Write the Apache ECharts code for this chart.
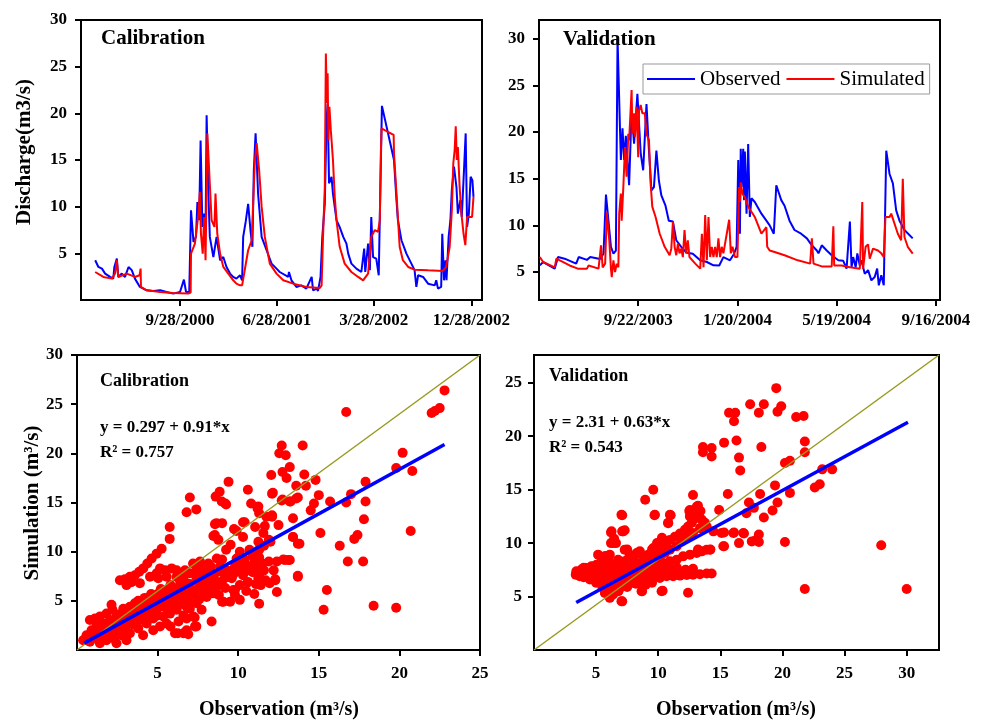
<!DOCTYPE html>
<html>
<head>
<meta charset="utf-8">
<script src="https://cdn.jsdelivr.net/npm/echarts@6.0.0/dist/echarts.min.js"></script>
<style>
html,body{margin:0;padding:0;background:#fff;}
#chart{width:983px;height:722px;}
</style>
</head>
<body>
<div id="chart"></div>
<script>
// ---------------- DATA ----------------
// Time series: [days after base date, discharge m3/s]
const calBaseDate = '2000-09-28';
const valBaseDate = '2003-09-22';
const calTickDates = ['2000-09-28', '2001-06-28', '2002-03-28', '2002-12-28'];
const valTickDates = ['2003-09-22', '2004-01-20', '2004-05-19', '2004-09-16'];
const calRangeDays = [-279, 851];
const valRangeDays = [-120, 365];

const calObs = [
[-239,4.26],[-230,3.54],[-220,3.36],[-211,2.83],[-197,2.47],[-188,2.29],[-185,3.54],[-178,4.43],[-174,2.47],[-164,2.83],[-155,2.47],[-145,3.54],[-136,3.2],[-127,2.29],[-113,1.4],[-94,1.04],[-75,0.97],[-56,1.04],[-38,0.86],[-19,0.68],[0,0.86],[11,2.18],[17,0.86],[26,0.86],[31,9.62],[38,6.22],[45,6.76],[49,10.5],[54,8.55],[58,17.1],[63,7.83],[68,9.26],[72,7.1],[75,19.8],[80,11.4],[84,6.76],[94,4.6],[103,6.76],[113,4.26],[122,4.6],[131,3.54],[141,2.83],[150,2.47],[159,2.29],[169,2.65],[175,2.11],[178,6.76],[185,8.37],[192,10.3],[199,7.3],[204,5.7],[208,13.9],[213,17.85],[220,11.4],[230,6.76],[244,5.33],[258,3.9],[272,3.36],[281,3.0],[305,2.47],[307,3.0],[314,2.11],[328,1.4],[342,1.57],[356,1.22],[371,2.47],[375,1.04],[385,1.22],[389,0.97],[396,2.47],[401,6.76],[408,10.3],[413,19.3],[416,21.0],[420,12.5],[427,13.2],[431,11.4],[441,8.55],[450,7.8],[460,6.76],[469,6.04],[474,4.97],[483,3.9],[497,3.36],[511,3.0],[519,5.5],[522,3.0],[530,6.04],[535,3.2],[539,8.9],[544,4.6],[553,4.43],[560,2.65],[569,20.8],[603,15.0],[610,10.7],[614,8.55],[624,6.4],[638,4.97],[652,3.9],[661,3.2],[666,1.4],[671,2.65],[685,2.47],[699,1.75],[718,1.57],[722,2.11],[727,1.22],[736,1.4],[739,7.1],[744,2.11],[748,4.26],[751,2.11],[757,6.76],[762,8.55],[766,11.8],[772,14.3],[779,12.1],[783,9.26],[790,10.7],[794,8.9],[800,13.7],[805,17.85],[809,7.83],[814,9.26],[819,13.2],[824,12.8],[827,11.05]
];
const calSim = [
[-239,3.0],[-216,2.47],[-192,2.29],[-183,2.83],[-178,4.26],[-174,2.47],[-150,2.83],[-127,2.47],[-114,2.65],[-111,3.36],[-110,1.4],[-94,1.04],[-56,0.86],[-19,0.75],[23,0.7],[30,0.8],[31,4.97],[42,6.04],[52,9.26],[56,11.6],[59,7.1],[64,4.97],[68,8.9],[72,4.26],[77,17.85],[83,13.2],[89,8.55],[97,7.83],[100,11.4],[105,7.1],[113,4.97],[122,3.54],[136,2.83],[150,2.11],[159,1.75],[169,1.57],[175,1.57],[178,1.75],[192,5.33],[202,6.4],[206,6.33],[211,15.0],[216,16.8],[219,16.8],[223,13.9],[230,10.0],[239,6.76],[253,3.9],[272,2.83],[291,2.11],[319,1.75],[356,1.4],[394,1.29],[399,1.57],[403,6.76],[408,12.1],[411,26.4],[414,21.1],[416,24.3],[418,17.1],[421,20.7],[425,18.2],[431,15.0],[436,11.05],[441,8.55],[450,5.7],[464,3.9],[483,3.0],[502,2.47],[516,2.11],[530,2.83],[539,6.76],[549,7.5],[558,7.3],[563,8.55],[566,15.7],[568,18.4],[586,18.0],[602,17.7],[603,15.7],[610,11.4],[619,5.7],[628,4.26],[643,3.54],[661,3.25],[699,3.18],[741,3.11],[750,3.54],[760,5.7],[766,9.6],[770,14.6],[774,16.1],[777,18.6],[780,15.0],[783,16.4],[788,12.1],[793,9.26],[799,7.1],[804,5.87],[809,8.9],[816,8.9],[823,8.9],[827,11.05]
];
const valObs = [
[-119,5.71],[-115,6.07],[-101,5.36],[-97,6.6],[-89,6.43],[-75,5.9],[-72,6.6],[-62,6.3],[-58,6.6],[-46,6.4],[-42,6.96],[-39,13.3],[-36,10.5],[-33,7.7],[-30,6.96],[-27,7.3],[-25,30.0],[-22,20.2],[-21,17.0],[-19,20.4],[-17,17.0],[-15,19.6],[-11,14.3],[-8,22.3],[-5,18.75],[-1,24.1],[3,17.7],[6,15.9],[10,23.0],[13,18.0],[16,13.75],[19,14.1],[22,18.0],[25,14.8],[28,13.2],[33,12.1],[37,10.5],[42,10.4],[46,8.4],[52,7.7],[58,7.1],[66,6.96],[75,6.25],[83,6.07],[91,5.71],[98,5.7],[103,6.6],[111,6.25],[116,6.96],[119,7.7],[121,17.0],[123,9.1],[124,18.2],[125,14.1],[127,18.2],[128,12.7],[129,17.9],[131,11.25],[133,18.7],[135,10.9],[137,12.9],[141,12.5],[149,11.25],[155,10.5],[159,10.0],[164,9.1],[167,14.3],[173,12.7],[177,12.1],[183,10.5],[189,9.5],[197,9.1],[204,8.6],[210,7.86],[216,7.3],[218,7.0],[222,7.86],[228,7.3],[234,6.8],[242,6.25],[248,6.2],[252,5.36],[256,10.4],[258,5.5],[260,6.6],[263,5.5],[265,7.0],[268,5.7],[270,6.25],[274,4.8],[278,5.2],[282,4.1],[286,4.46],[289,5.36],[291,3.57],[294,4.64],[297,3.57],[300,18.0],[304,15.5],[308,14.5],[312,11.6],[316,10.5],[322,9.5],[332,8.6]
];
const valSim = [
[-119,6.6],[-115,6.07],[-101,5.5],[-99,6.43],[-83,5.7],[-73,5.36],[-62,5.36],[-60,5.7],[-48,5.36],[-46,5.2],[-45,7.86],[-43,5.5],[-40,5.9],[-38,11.4],[-35,8.4],[-33,5.36],[-32,4.46],[-30,6.25],[-28,5.0],[-26,5.9],[-24,5.5],[-23,11.25],[-21,13.4],[-20,10.5],[-18,14.1],[-16,18.4],[-14,15.2],[-12,19.8],[-11,19.1],[-8,24.5],[-7,19.8],[-5,22.0],[-4,19.5],[-2,22.7],[0,17.3],[1,22.3],[3,22.9],[5,22.0],[8,22.0],[10,19.8],[13,19.1],[15,14.5],[17,12.0],[21,10.9],[26,9.1],[32,7.7],[38,6.8],[40,7.5],[42,10.4],[44,7.7],[46,6.8],[48,8.0],[50,7.0],[52,7.5],[54,6.6],[56,9.5],[58,7.0],[60,8.4],[62,6.6],[69,5.9],[75,5.36],[77,9.1],[79,5.5],[81,11.1],[83,6.25],[85,10.9],[87,6.6],[89,7.7],[91,6.6],[93,7.7],[95,6.6],[97,8.6],[99,6.6],[101,7.7],[103,7.0],[110,10.6],[112,7.0],[114,7.7],[117,6.6],[120,6.6],[122,14.1],[123,12.5],[124,14.6],[126,13.4],[129,13.0],[133,12.0],[141,10.9],[149,9.1],[155,9.8],[156,7.7],[159,7.3],[165,7.14],[177,6.8],[193,6.25],[208,5.9],[210,8.6],[212,5.9],[222,5.6],[234,5.6],[236,9.9],[237,5.7],[246,5.7],[256,5.5],[268,5.36],[271,12.5],[272,5.36],[275,7.7],[278,7.96],[280,6.43],[284,7.5],[290,7.3],[294,7.0],[297,6.6],[299,10.9],[304,10.9],[306,11.25],[314,9.1],[318,8.4],[320,15.0],[322,8.75],[326,7.7],[332,6.96]
];

// Scatter: [observation, simulation]
const calPairs = [
[16.7,24.2],[22.0,24.1],[22.2,24.3],[22.5,24.6],[22.8,26.4],[20.2,20.05],[19.8,18.5],[20.8,18.2],[20.7,12.1],[19.8,4.3],[18.4,4.5],[17.9,17.1],[17.9,15.1],[17.8,13.3],[17.75,9.0],[17.4,11.7],[17.2,11.3],[17.0,15.85],[16.7,15.0],[16.8,9.0],[16.3,10.6],[15.7,15.1],[15.5,6.1],[15.3,4.1],[15.1,11.9],[15.0,15.75],[14.8,17.3],[14.7,14.9],[14.5,14.2],[14.2,16.7],[14.1,17.85],[14.0,20.8],[13.8,10.8],[13.7,7.55],[13.7,15.5],[13.6,16.7],[13.4,11.5],[13.4,13.4],[13.25,15.1],[13.2,18.6],[13.0,17.5],[12.95,19.8],[12.75,18.1],[12.7,20.8],[12.55,20.0],[12.75,15.3],[13.1,9.15],[12.8,9.2],[12.4,5.9],[12.3,7.2],[12.1,13.7],[12.1,15.9],[12.05,17.8],[11.9,9.0],[11.75,13.55],[11.65,12.6],[11.4,7.96],[11.3,4.7],[11.2,14.4],[11.1,6.7],[10.8,14.9],[10.6,16.3],[10.6,6.9],[10.4,13.0],[10.1,5.1],[9.9,12.1],[9.8,6.1],[9.5,4.9],[9.4,17.1],[9.2,14.9],[9.0,4.9],[8.85,16.1],[8.6,15.6],[8.65,12.9],[8.55,11.7],[8.35,2.9],[7.4,2.4],[7.4,14.3],[7.0,15.5],[6.8,14.0],[7.3,3.3],[5.75,12.5],[5.75,11.3],[6.9,1.6],[6.25,1.7],
[8.98,15.1],[9.25,14.8],[11.25,14.6],[11.3,13.9],[12.15,16.0],[12.7,15.2],[13.2,15.1],[13.6,15.4],[12.1,13.55],[12.5,12.7],[10.3,13.0],[9.74,12.3],[9.0,12.9],[8.56,12.8],[8.46,11.6],[8.77,11.2],[9.53,10.7],[10.3,11.5],[11.05,12.5],[11.56,11.9],[11.9,11.2],[11.25,11.0],[10.7,10.2],[10.1,10.0],[9.25,10.2],[8.67,9.3],[8.15,8.8],[7.63,9.0],[7.2,8.8],[6.7,8.1],[6.18,8.1],[5.87,8.3],[5.46,8.1],[5.15,8.3],[4.94,7.8],[5.25,10.3],[4.94,9.8],[4.63,9.3],[4.36,8.8],[4.11,8.3],[3.86,7.96],[3.59,7.6],[3.28,7.45],[2.97,7.2],[2.66,7.1],[3.07,6.6],[3.38,6.9],[3.9,6.8],[4.53,7.45],[5.04,7.3],[5.56,7.45],[6.18,7.45],[6.6,7.45],[7.0,7.8],[7.42,8.1],[7.84,7.8],[8.25,8.1],[8.87,8.5],[9.28,8.1],[9.8,8.5],[10.3,8.8],[10.7,8.5],[11.15,8.1],[11.5,8.8],[12.4,9.0],[12.9,9.15],[13.2,9.15],[13.7,7.45],[13.4,11.5],[13.7,10.8],[10.7,8.1],[11.25,7.3],[11.6,8.1],[12.2,8.1],[12.3,7.1],[11.95,6.8],[11.4,6.6],[10.6,6.9],[10.1,6.6],[9.7,6.1],[9.2,6.3],[8.67,6.4],[8.25,6.9],[7.84,6.6],[7.42,6.1],[7.0,5.9],[6.39,5.76],[5.97,5.9],[5.56,5.76],[5.15,5.4],[4.73,5.1],[4.32,4.9],[4.0,4.75],[3.59,4.75],[3.28,4.4],[2.87,4.2],[2.14,4.6],[2.2,4.1],[1.83,3.7],[1.42,3.4],[1.11,3.2],[1.6,2.7],[1.21,2.4],[0.9,2.0],[0.59,1.5],[0.38,1.0],[0.8,0.85],[1.21,1.2],[1.6,1.5],[2.04,1.9],[2.25,1.2],[2.76,1.5],[2.66,2.4],[3.28,2.7],[3.49,3.4],[3.9,3.05],[4.32,2.7],[4.73,3.2],[4.42,3.9],[4.94,4.1],[5.35,4.4],[5.77,4.75],[6.18,5.1],[6.6,4.75],[6.18,4.1],[5.77,3.7],[5.35,3.4],[5.15,2.4],[5.56,2.7],[6.08,1.7],[6.6,1.7],[6.8,2.0],[7.22,3.4],[7.32,2.4],[6.8,3.2],[9.08,4.9],[11.7,7.1],[7.73,4.1],[7.42,4.75],[8.04,5.4],[8.46,5.76],[6.8,4.4],[3.8,2.2],[2.87,2.0],[1.83,1.0],[2.45,0.68],[3.07,1.0],[1.42,0.68],[4.1,1.5],[4.73,2.0],[3.28,1.7],[2.04,3.05],[2.45,3.4],[0.8,3.05],[1.21,2.9],
[1.0,1.6],[1.4,2.0],[1.8,2.3],[2.3,2.7],[2.6,3.0],[3.0,3.5],[3.3,3.8],[3.7,4.2],[4.1,4.4],[2.0,2.5],[2.5,1.9],[3.0,2.3],[3.5,2.6],[4.0,3.6],[4.5,4.5],[5.0,4.9],[5.5,5.2],[6.0,5.5],[6.5,6.2],[7.0,6.7],[7.5,7.0],[8.0,7.3],[8.5,7.6],[9.0,7.9],[9.5,8.0],[10.0,8.4],[10.4,9.2],[10.9,9.6],[11.3,10.2],[11.6,10.6],[12.0,11.0],[9.9,9.3],[9.0,9.2],[8.3,8.5],[7.7,8.3],[6.4,7.0],[5.8,6.6],[5.2,6.2],[4.6,5.7],[4.2,5.3],[5.8,2.4],[6.3,2.9],[6.6,3.5],[6.0,4.4],[7.0,4.2],[7.6,5.2],[8.0,6.2],[9.0,7.0],[9.6,7.3],[10.3,7.6],[10.9,7.9],[8.8,5.6],[9.8,5.6],[10.5,6.0],[11.0,5.7],
[1.3,1.8],[1.7,1.2],[2.0,1.5],[2.4,2.1],[2.8,2.6],[3.1,3.0],[1.5,2.8],[2.6,3.6],[3.2,3.2],[3.6,3.0],[3.9,3.8],[4.3,3.3],[4.6,3.8],[5.0,3.5],[5.2,4.8],[5.6,4.2],[5.9,5.2],[6.3,4.6],[6.6,5.3],[6.9,5.0],[7.2,5.6],[7.6,6.4],[7.9,5.9],[8.3,6.6],[8.6,7.0],[8.9,6.7],[9.3,7.4],[9.7,7.7],[10.2,8.0],[10.5,8.6],[11.0,8.9],[11.3,9.4],[8.2,7.6],[7.4,7.4],[6.8,6.8],[6.2,6.3],[5.6,6.1],[5.0,5.7],[4.4,5.2],[3.8,5.0]
];
const valPairs = [
[19.5,24.5],[17.4,23.0],[18.5,23.0],[19.9,22.8],[19.6,22.3],[18.1,22.2],[15.7,22.2],[16.2,22.2],[16.1,21.4],[21.1,21.8],[21.7,21.9],[21.8,19.5],[21.8,18.5],[18.3,19.0],[16.3,19.6],[15.3,19.4],[16.5,18.0],[16.6,16.8],[13.6,19.0],[14.3,18.9],[13.6,18.5],[14.3,18.1],[20.2,17.5],[20.6,17.7],[23.2,16.9],[24.0,16.9],[22.6,15.2],[23.0,15.5],[19.4,15.4],[20.6,14.7],[19.6,13.8],[19.2,13.05],[18.5,12.4],[18.2,14.6],[17.3,13.8],[17.1,12.8],[17.7,13.3],[17.9,10.3],[18.1,10.1],[18.1,10.8],[20.2,10.1],[16.9,10.9],[16.5,10.0],[16.1,11.0],[21.8,5.7],[27.95,9.8],[30.0,5.7],[15.6,14.6],[14.9,13.1],[15.3,9.7],[15.3,11.0],[12.8,14.5],[12.5,13.0],[13.2,13.5],[13.4,13.0],[12.6,12.6],[11.0,12.6],[10.8,11.9],[9.6,15.0],[8.95,14.05],[9.7,12.6],[7.1,12.6],[7.1,11.1],[7.3,11.2],[6.2,11.0],[6.45,10.4],[6.6,10.0],[6.2,10.0],[7.5,9.4],[10.3,10.5],[9.9,10.0],[9.5,9.4],[14.2,9.4],[13.2,9.4],[10.35,5.55],[12.4,5.35],[7.1,4.55],[8.7,5.5],[8.3,9.1],[5.8,8.8],[3.36,7.05],[3.5,7.2],[4.0,7.7],[4.7,7.8],
[3.41,7.36],[3.82,7.52],[4.22,7.67],[4.62,7.83],[5.03,7.98],[5.43,8.3],[5.7,8.76],[5.97,8.14],[3.68,6.9],[4.09,7.05],[4.49,7.2],[4.89,7.36],[5.3,7.52],[5.7,7.67],[6.1,7.83],[6.5,7.98],[6.9,8.14],[7.31,8.3],[7.58,8.5],[7.98,8.6],[8.39,9.07],[8.79,8.76],[9.19,8.92],[9.6,9.23],[10.0,9.38],[10.4,9.7],[10.67,10.0],[10.94,10.3],[11.34,10.6],[11.75,10.9],[12.15,11.25],[12.4,11.56],[12.7,11.9],[12.96,12.3],[13.2,12.65],[13.5,12.2],[13.76,11.9],[5.3,6.59],[5.7,6.27],[6.1,5.96],[6.5,5.65],[6.77,6.12],[7.18,6.43],[7.58,6.59],[7.98,6.74],[8.52,6.74],[9.06,6.59],[9.6,6.74],[10.13,6.74],[10.67,6.9],[11.2,6.9],[11.75,6.96],[12.3,7.02],[12.8,7.05],[13.36,7.08],[13.9,7.15],[14.3,7.15],[6.37,5.19],[7.04,4.56],[6.1,4.88],[5.7,5.34],[8.66,5.5],[10.27,5.5],[6.64,7.05],[7.18,7.2],[7.72,7.36],[8.25,7.52],[8.79,7.67],[9.33,7.83],[9.87,7.98],[10.4,8.14],[10.94,8.3],[11.48,8.45],[12.0,8.76],[12.55,8.92],[13.1,9.07],[13.5,9.23],[13.9,9.38],[7.98,7.98],[8.52,8.14],[9.06,8.3],[10.13,8.76],[10.54,9.07],[10.94,9.38],[11.48,9.7],[11.88,10.16],[12.4,10.6],[12.8,10.94],[13.36,11.4],[13.9,11.56],[14.44,11.1],[15.1,10.94],[15.24,9.7],[16.05,10.94],[16.85,10.94],[17.53,10.16],[17.93,10.3],[7.04,12.65],[9.73,12.65],[10.94,12.65],[10.8,11.87],[12.55,13.1],[13.1,13.4],[12.55,12.5],[6.24,11.1],[7.18,11.1],[6.37,10.0],[7.3,9.38],[7.72,8.92],[8.52,9.23],[9.6,9.54],[5.7,8.6],[6.1,8.92],[5.16,8.92],[6.77,8.45],[14.17,9.38],
[6.0,6.6],[6.5,6.8],[7.0,6.9],[7.5,7.0],[8.0,7.1],[8.5,7.2],[9.0,7.2],[9.5,7.3],[10.0,7.4],[10.5,7.5],[11.0,7.6],[11.5,7.7],[7.0,7.6],[8.0,7.8],[6.0,7.2],[5.6,7.0],[4.5,6.6],[5.0,6.3],[5.5,5.9],[6.0,5.5],[6.8,5.5],[7.5,5.9],[8.2,6.2],[9.0,6.1],[4.2,7.2],[8.5,6.3],[9.5,6.3],
[4.0,6.8],[4.5,7.0],[5.0,6.9],[5.5,6.6],[6.3,6.1],[6.9,5.8],[7.4,6.2],[7.9,6.3],[8.4,6.6],[8.9,6.8],[9.4,7.0],[9.9,7.1],[10.4,7.2],[11.0,7.3],[11.6,7.4],[12.2,7.5],[12.8,7.6],[7.5,8.0],[8.5,8.0],[9.0,8.6],[9.5,8.6],[10.0,8.2],[6.6,7.4],[7.2,7.8],[5.0,7.7],[4.5,7.6],[6.0,8.5],[6.3,6.6],[7.6,6.9],[8.2,7.0],[5.8,5.9]
];

// Fit lines (end points) and panel diagonals
const calFit = [[0.45,0.7],[22.8,20.9]];
const valFit = [[3.4,4.45],[30.1,21.3]];
const calDiag = [[0,0],[25,30]];
const valDiag = [[0,0],[32.6,27.6]];

const calScatterTicksX = [5,10,15,20,25];
const calScatterTicksY = [5,10,15,20,25,30];
const valScatterTicksX = [5,10,15,20,25,30];
const valScatterTicksY = [5,10,15,20,25];
const seriesTicksY = [5,10,15,20,25,30];

// ---------------- BUILD ----------------
const DAY = 86400000;
const SERIF = '"Liberation Serif", "Times New Roman", serif';
function parseDate(s){ const p = s.split('-').map(Number); return Date.UTC(p[0], p[1]-1, p[2]); }
const calBase = parseDate(calBaseDate), valBase = parseDate(valBaseDate);
const toTime = (base, arr) => arr.map(p => [base + p[0]*DAY, p[1]]);
function fmtDate(v){ const d = new Date(v); return (d.getUTCMonth()+1) + '/' + d.getUTCDate() + '/' + d.getUTCFullYear(); }

function axis(extra, ticks, labelMargin){
  return Object.assign({
    type: 'value',
    axisLine: {show: true, onZero: false, lineStyle: {color: '#000', width: 2}},
    axisTick: {show: true, inside: false, length: 6, customValues: ticks, lineStyle: {color: '#000', width: 2}},
    axisLabel: {show: true, customValues: ticks, color: '#000', fontFamily: SERIF, fontWeight: 'bold', fontSize: 17, margin: labelMargin},
    splitLine: {show: false}
  }, extra);
}
function addFmt(ax, f){ ax.axisLabel.formatter = f; return ax; }

const gridBase = {show: true, borderColor: '#000', borderWidth: 2, backgroundColor: 'transparent', containLabel: false};

const txt = (x, y, text, size, extra) => Object.assign({
  type: 'text', x: x, y: y, z: 100,
  style: {text: text, fill: '#000', font: 'bold ' + size + 'px ' + SERIF, textAlign: 'left', textVerticalAlign: 'middle'}
}, extra || {});

const option = {
  animation: false,
  backgroundColor: '#fff',
  grid: [
    Object.assign({left: 81, top: 20, width: 401, height: 280}, gridBase),
    Object.assign({left: 539, top: 20, width: 401, height: 280}, gridBase),
    Object.assign({left: 77, top: 355, width: 403, height: 295}, gridBase),
    Object.assign({left: 534, top: 355, width: 405, height: 295}, gridBase)
  ],
  xAxis: [
    addFmt(axis({gridIndex: 0, min: calBase + calRangeDays[0]*DAY, max: calBase + calRangeDays[1]*DAY}, calTickDates.map(parseDate), 12), fmtDate),
    addFmt(axis({gridIndex: 1, min: valBase + valRangeDays[0]*DAY, max: valBase + valRangeDays[1]*DAY}, valTickDates.map(parseDate), 12), fmtDate),
    axis({gridIndex: 2, min: 0, max: 25}, calScatterTicksX, 15),
    axis({gridIndex: 3, min: 0, max: 32.6}, valScatterTicksX, 15)
  ],
  yAxis: [
    axis({gridIndex: 0, min: 0, max: 30}, seriesTicksY, 14),
    axis({gridIndex: 1, min: 2, max: 32}, seriesTicksY, 14),
    axis({gridIndex: 2, min: 0, max: 30}, calScatterTicksY, 14),
    axis({gridIndex: 3, min: 0, max: 27.6}, valScatterTicksY, 12)
  ],
  legend: {
    data: ['Observed', 'Simulated'],
    left: 643, top: 64,
    icon: 'rect', itemWidth: 48, itemHeight: 2, itemGap: 6,
    padding: [4, 5, 4, 4],
    borderColor: '#999', borderWidth: 1, backgroundColor: '#fff',
    selectedMode: false,
    textStyle: {fontFamily: SERIF, fontSize: 21, color: '#000', lineHeight: 22}
  },
  series: [
    {name: 'Observed', type: 'line', xAxisIndex: 0, yAxisIndex: 0, data: toTime(calBase, calObs), showSymbol: false, color: '#0000ff', lineStyle: {color: '#0000ff', width: 2}},
    {name: 'Simulated', type: 'line', xAxisIndex: 0, yAxisIndex: 0, data: toTime(calBase, calSim), showSymbol: false, color: '#ff0000', lineStyle: {color: '#ff0000', width: 2}},
    {name: 'Observed', type: 'line', xAxisIndex: 1, yAxisIndex: 1, data: toTime(valBase, valObs), showSymbol: false, color: '#0000ff', lineStyle: {color: '#0000ff', width: 2}},
    {name: 'Simulated', type: 'line', xAxisIndex: 1, yAxisIndex: 1, data: toTime(valBase, valSim), showSymbol: false, color: '#ff0000', lineStyle: {color: '#ff0000', width: 2}},
    {name: 'calScatter', type: 'scatter', xAxisIndex: 2, yAxisIndex: 2, data: calPairs, symbolSize: 10, itemStyle: {color: '#ff0000', opacity: 1}},
    {name: 'valScatter', type: 'scatter', xAxisIndex: 3, yAxisIndex: 3, data: valPairs, symbolSize: 10, itemStyle: {color: '#ff0000', opacity: 1}},
    {name: 'calDiag', type: 'line', xAxisIndex: 2, yAxisIndex: 2, data: calDiag, showSymbol: false, z: 3, lineStyle: {color: '#999922', width: 1.5}},
    {name: 'valDiag', type: 'line', xAxisIndex: 3, yAxisIndex: 3, data: valDiag, showSymbol: false, z: 3, lineStyle: {color: '#999922', width: 1.5}},
    {name: 'calFit', type: 'line', xAxisIndex: 2, yAxisIndex: 2, data: calFit, showSymbol: false, z: 4, lineStyle: {color: '#0000ff', width: 3.5}},
    {name: 'valFit', type: 'line', xAxisIndex: 3, yAxisIndex: 3, data: valFit, showSymbol: false, z: 4, lineStyle: {color: '#0000ff', width: 3.5}}
  ],
  graphic: [
    txt(101, 39, 'Calibration', 21),
    txt(563, 40, 'Validation', 21),
    txt(25, 152, '', 21, {rotation: Math.PI/2, style: {text: 'Discharge(m3/s)', fill: '#000', font: 'bold 21px ' + SERIF, textAlign: 'center', textVerticalAlign: 'middle'}}),
    txt(100, 381, 'Calibration', 18),
    txt(100, 428, 'y = 0.297 + 0.91*x', 17),
    txt(100, 453, 'R\u00b2 = 0.757', 17),
    txt(549, 376, 'Validation', 18),
    txt(549, 423, 'y = 2.31 + 0.63*x', 17),
    txt(549, 448, 'R\u00b2 = 0.543', 17),
    txt(33, 503, '', 21, {rotation: Math.PI/2, style: {text: 'Simulation (m\u00b3/s)', fill: '#000', font: 'bold 21px ' + SERIF, textAlign: 'center', textVerticalAlign: 'middle'}}),
    txt(279, 710, '', 20, {style: {text: 'Observation (m\u00b3/s)', fill: '#000', font: 'bold 20px ' + SERIF, textAlign: 'center', textVerticalAlign: 'middle'}}),
    txt(736, 710, '', 20, {style: {text: 'Observation (m\u00b3/s)', fill: '#000', font: 'bold 20px ' + SERIF, textAlign: 'center', textVerticalAlign: 'middle'}})
  ]
};

const chart = echarts.init(document.getElementById('chart'), null, {renderer: 'canvas'});
chart.setOption(option);
</script>
</body>
</html>
